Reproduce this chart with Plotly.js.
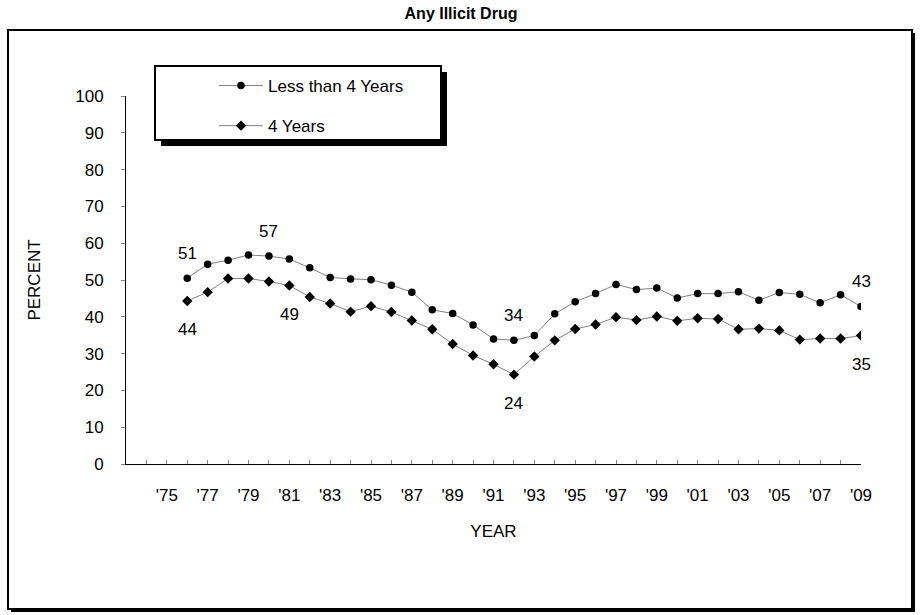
<!DOCTYPE html>
<html>
<head>
<meta charset="utf-8">
<script src="https://cdn.plot.ly/plotly-3.0.1.min.js"></script>
<style>html,body{margin:0;padding:0;background:#fff;}#chart{width:922px;height:615px;}</style>
</head>
<body>
<div id="chart"></div>
<script>
// ---- data ----
const years = [1976,1977,1978,1979,1980,1981,1982,1983,1984,1985,1986,1987,1988,1989,1990,1991,1992,1993,1994,1995,1996,1997,1998,1999,2000,2001,2002,2003,2004,2005,2006,2007,2008,2009];
const lessThan4 = [50.5,54.3,55.4,56.8,56.5,55.7,53.3,50.7,50.3,50.1,48.6,46.7,41.9,40.9,37.8,34.0,33.6,34.9,40.8,44.1,46.3,48.8,47.4,47.8,45.1,46.3,46.3,46.8,44.5,46.6,46.1,43.8,46.0,42.8];
const fourYears = [44.3,46.7,50.4,50.4,49.6,48.5,45.4,43.6,41.4,42.9,41.3,39.0,36.6,32.6,29.5,27.1,24.3,29.2,33.6,36.7,37.9,39.9,39.1,40.1,38.9,39.6,39.4,36.6,36.8,36.3,33.8,34.1,34.1,34.9];
const tickYears = [1975,1977,1979,1981,1983,1985,1987,1989,1991,1993,1995,1997,1999,2001,2003,2005,2007,2009];
const tickLabels = ["'75","'77","'79","'81","'83","'85","'87","'89","'91","'93","'95","'97","'99","'01","'03","'05","'07","'09"];
const seriesNames = ["Less than 4 Years","4 Years"];
// labelled points: [year, series index, above?]
const labelled = [[1976,0,true],[1980,0,true],[1992,0,true],[2009,0,true],[1976,1,false],[1981,1,false],[1992,1,false],[2009,1,false]];

// ---- layout helpers ----
const W = 922, H = 615, L = 126, R = 61, T = 96, B = 151;
const pw = W - L - R, ph = H - T - B;
const px = v => (v - L) / pw;
const py = v => (H - B - v) / ph;
const FONT = "Liberation Sans, Arial, sans-serif";

const series = [lessThan4, fourYears];
const annotations = labelled.map(([yr, s, above]) => {
  const v = series[s][years.indexOf(yr)];
  return {x: yr, y: v, xref: 'x', yref: 'y', text: String(Math.round(v)), showarrow: false,
    yshift: above ? 25 : -29, font: {family: FONT, size: 17, color: '#000'}};
});

function boxWithShadow(x0, y0, x1, y1, off, lw) {
  return [
    {type: 'rect', xref: 'paper', yref: 'paper', layer: 'below', x0: px(x0 + off), x1: px(x1 + off), y0: py(y0 + off), y1: py(y1 + off), fillcolor: '#000', line: {width: 0}},
    {type: 'rect', xref: 'paper', yref: 'paper', layer: 'below', x0: px(x0), x1: px(x1), y0: py(y0), y1: py(y1), fillcolor: '#fff', line: {color: '#000', width: lw}}
  ];
}

const shapes = [].concat(boxWithShadow(8, 30, 912, 609, 3, 2), boxWithShadow(155, 66, 441, 140, 6, 2));

const traces = [
  {x: years, y: lessThan4, name: seriesNames[0], type: 'scatter', mode: 'lines+markers',
   line: {color: '#808080', width: 1}, marker: {symbol: 'circle', size: 7.5, color: '#000'}},
  {x: years, y: fourYears, name: seriesNames[1], type: 'scatter', mode: 'lines+markers',
   line: {color: '#808080', width: 1}, marker: {symbol: 'diamond', size: 8, color: '#000'}}
];

const layout = {
  width: W, height: H,
  margin: {l: L, r: R, t: T, b: B, pad: 0},
  paper_bgcolor: '#fff', plot_bgcolor: 'rgba(0,0,0,0)',
  font: {family: FONT, size: 17, color: '#000'},
  title: {text: '<b>Any Illicit Drug</b>', x: 0.5, xref: 'container', xanchor: 'center', y: 1 - 13 / H, yref: 'container', yanchor: 'middle',
    font: {family: FONT, size: 16, color: '#000'}},
  xaxis: {range: [1973, 2009], tickvals: tickYears, ticktext: tickLabels, ticks: 'inside', ticklen: 4, tickcolor: '#888', tickwidth: 1,
    minor: {dtick: 1, tick0: 1973, ticks: 'inside', ticklen: 4, tickcolor: '#888', tickwidth: 1, showgrid: false},
    showline: true, linecolor: '#000', linewidth: 1, showgrid: false, zeroline: false, ticklabelstandoff: 16,
    tickfont: {family: FONT, size: 17, color: '#000'},
    title: {text: 'YEAR', standoff: 20, font: {family: FONT, size: 17, color: '#000'}}},
  yaxis: {range: [0, 100], dtick: 10, tick0: 0, ticks: 'outside', ticklen: 4, tickcolor: '#888', tickwidth: 1,
    showline: true, linecolor: '#000', linewidth: 1, showgrid: false, zeroline: false, ticklabelstandoff: 14,
    tickfont: {family: FONT, size: 17, color: '#000'},
    title: {text: 'PERCENT', standoff: 30, font: {family: FONT, size: 17, color: '#000'}}},
  showlegend: true,
  legend: {x: px(214), y: py(68), xanchor: 'left', yanchor: 'top', bgcolor: 'rgba(0,0,0,0)', borderwidth: 0,
    traceorder: 'normal', itemwidth: 44, font: {family: FONT, size: 17, color: '#000'}},
  shapes: shapes,
  annotations: annotations
};

Plotly.newPlot('chart', traces, layout, {displayModeBar: false, staticPlot: true}).then(gd => {
  // spread the two legend rows to match the reference spacing
  const items = gd.querySelectorAll('.legend .traces');
  if (items.length === 2) {
    const t = items[1].getAttribute('transform') || '';
    const m = /translate\(([^,]+),\s*([^)]+)\)/.exec(t);
    if (m) items[1].setAttribute('transform', 'translate(' + m[1] + ',' + (parseFloat(m[2]) + 15) + ')');
  }
  const bg = gd.querySelector('.legend rect.bg');
  if (bg) bg.setAttribute('height', parseFloat(bg.getAttribute('height')) + 20);
  const cp = document.querySelectorAll('clipPath[id^="legend"] rect');
  cp.forEach(r => r.setAttribute('height', parseFloat(r.getAttribute('height')) + 20));
});
</script>
</body>
</html>
